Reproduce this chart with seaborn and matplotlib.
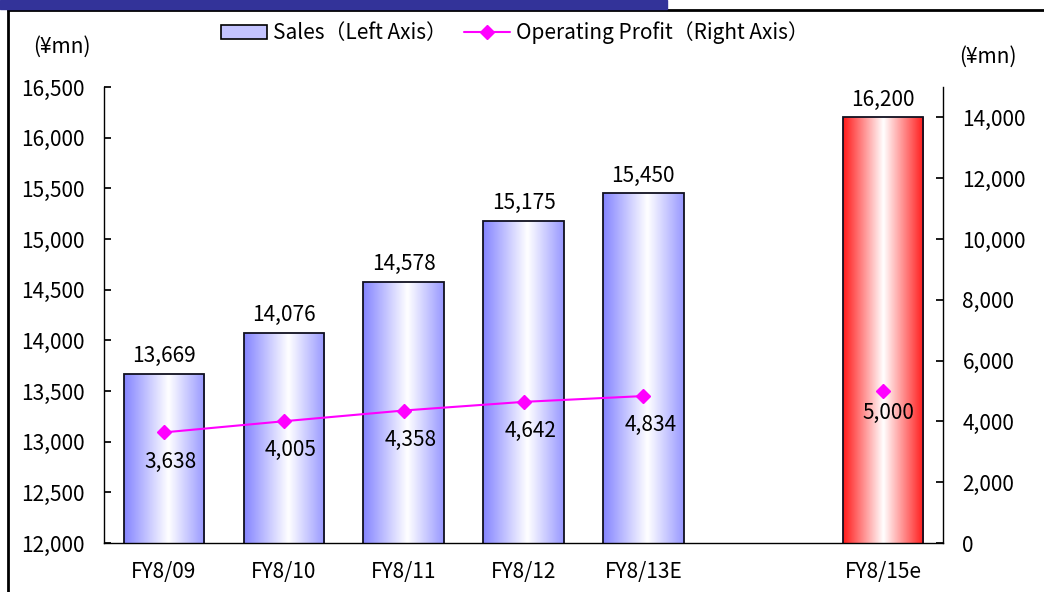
import numpy as np
import pandas as pd
import matplotlib
matplotlib.use("Agg")
import matplotlib.pyplot as plt
import seaborn as sns
from matplotlib.colors import LinearSegmentedColormap
from matplotlib.patches import Patch, Rectangle
from matplotlib.lines import Line2D
from matplotlib.ticker import FuncFormatter, FixedLocator

# data
categories = ["FY8/09", "FY8/10", "FY8/11", "FY8/12", "FY8/13E", " ", "FY8/15e"]
sales = [13669, 14076, 14578, 15175, 15450, np.nan, 16200]
profit = [3638, 4005, 4358, 4642, 4834, np.nan, np.nan]
profit_forecast = [np.nan, np.nan, np.nan, np.nan, np.nan, np.nan, 5000]

sns.set_theme(style="white")
plt.rcParams["font.family"] = ["Noto Sans CJK JP", "DejaVu Sans"]
plt.rcParams["text.color"] = "black"
plt.rcParams["xtick.color"] = "black"
plt.rcParams["ytick.color"] = "black"
FS = 15

df = pd.DataFrame({"cat": categories, "sales": sales})

fig = plt.figure(figsize=(10.44, 5.92), dpi=100)
ax = fig.add_axes([104 / 1044, 49 / 592, 839 / 1044, 456 / 592])

sns.barplot(data=df, x="cat", y="sales", order=categories, color="white",
            edgecolor="#101020", linewidth=1.3, width=0.67, ax=ax,
            saturation=1, err_kws={"linewidth": 0})

ax.set_ylim(12000, 16500)
ax.set_xlim(-0.5, len(categories) - 0.5)

# gradient fills
blue_cm = LinearSegmentedColormap.from_list(
    "b", [(0, "#8484ff"), (0.55, "#ffffff"), (1, "#9898ff")])
red_cm = LinearSegmentedColormap.from_list(
    "r", [(0, "#ff1a1a"), (0.5, "#ffffff"), (1, "#ff1a1a")])
grad = np.linspace(0, 1, 256).reshape(1, -1)
for p in ax.patches:
    if np.isnan(p.get_height()) or p.get_height() == 0:
        continue
    x0 = p.get_x()
    x1 = x0 + p.get_width()
    y1 = p.get_y() + p.get_height()
    cm = red_cm if x0 > 5.5 else blue_cm
    im = ax.imshow(grad, extent=[x0, x1, 12000, y1], aspect="auto",
                   cmap=cm, zorder=p.get_zorder() - 0.1, interpolation="bicubic")
    im.set_clip_path(p)
    p.set_facecolor("none")
    ax.annotate(f"{int(y1):,}", (x0 + p.get_width() / 2, y1), xytext=(0, 5),
                textcoords="offset points", ha="center", va="bottom", fontsize=FS)

ax.set_ylim(12000, 16500)
ax.set_xlim(-0.5, len(categories) - 0.5)
ax.yaxis.set_major_locator(FixedLocator(np.arange(12000, 16501, 500)))
ax.yaxis.set_major_formatter(FuncFormatter(lambda v, _: f"{int(v):,}"))
ax.set_xlabel("")
ax.set_ylabel("")
ax.set_xticks(range(len(categories)))
ax.set_xticklabels(categories)
ax.set_xticks(np.arange(0.5, len(categories) - 0.5, 1), minor=True)
ax.tick_params(axis="x", which="major", length=0, pad=13, labelsize=FS)
ax.tick_params(axis="x", which="minor", length=5, direction="in", color="black")
ax.tick_params(axis="y", length=5, direction="in", labelsize=FS, color="black",
               pad=14, left=True)
for s in ["top", "right"]:
    ax.spines[s].set_visible(False)
for s in ["left", "bottom"]:
    ax.spines[s].set_color("black")
    ax.spines[s].set_linewidth(1.0)

# right axis: operating profit
ax2 = ax.twinx()
ax2.plot(range(len(categories)), profit, color="#ff00ff", lw=1.5,
         marker="D", markersize=7)
ax2.plot(range(len(categories)), profit_forecast, color="#ff00ff", lw=1.5,
         marker="D", markersize=7, linestyle="none")
ax2.set_ylim(0, 15000)
ax2.yaxis.set_major_locator(FixedLocator(np.arange(0, 14001, 2000)))
ax2.yaxis.set_major_formatter(FuncFormatter(lambda v, _: f"{int(v):,}"))
ax2.tick_params(axis="y", length=5, direction="in", labelsize=FS, color="black",
                pad=14, right=True)
for s in ["top", "left", "bottom"]:
    ax2.spines[s].set_visible(False)
ax2.spines["right"].set_color("black")
ax2.spines["right"].set_linewidth(1.0)
ax2.grid(False)

for i, v in enumerate(profit):
    if not np.isnan(v):
        ax2.annotate(f"{int(v):,}", (i, v), xytext=(5, -21), textcoords="offset points",
                     ha="center", va="center", fontsize=FS)
for i, v in enumerate(profit_forecast):
    if not np.isnan(v):
        ax2.annotate(f"{int(v):,}", (i, v), xytext=(4, -16), textcoords="offset points",
                     ha="center", va="center", fontsize=FS)

# unit labels
fig.text(62 / 1044, 1 - 47 / 592, "(¥mn)", ha="center", va="center", fontsize=FS)
fig.text(988 / 1044, 1 - 57 / 592, "(¥mn)", ha="center", va="center", fontsize=FS)

# legend
handles = [Patch(facecolor="#c4c4ff", edgecolor="black", linewidth=1.2),
           Line2D([0], [0], color="#ff00ff", lw=1.5, marker="D", markersize=7)]
fig.legend(handles, ["Sales（Left Axis）", "Operating Profit（Right Axis）"],
           loc="center", bbox_to_anchor=(515 / 1044, 1 - 33 / 592), ncol=2,
           frameon=False, fontsize=FS, handlelength=2.2, columnspacing=0.8,
           handletextpad=0.3)

# frame and header strip
fig.patches.append(Rectangle((0, 1 - 9 / 592), 667 / 1044, 9 / 592,
                             transform=fig.transFigure, color="#333399", zorder=5))
fig.add_artist(Line2D([8 / 1044, 1], [1 - 10 / 592, 1 - 10 / 592],
                      transform=fig.transFigure, color="black", lw=2))
fig.add_artist(Line2D([8 / 1044, 8 / 1044], [0, 1 - 10 / 592],
                      transform=fig.transFigure, color="black", lw=2))

fig.savefig("out.png", dpi=100)
